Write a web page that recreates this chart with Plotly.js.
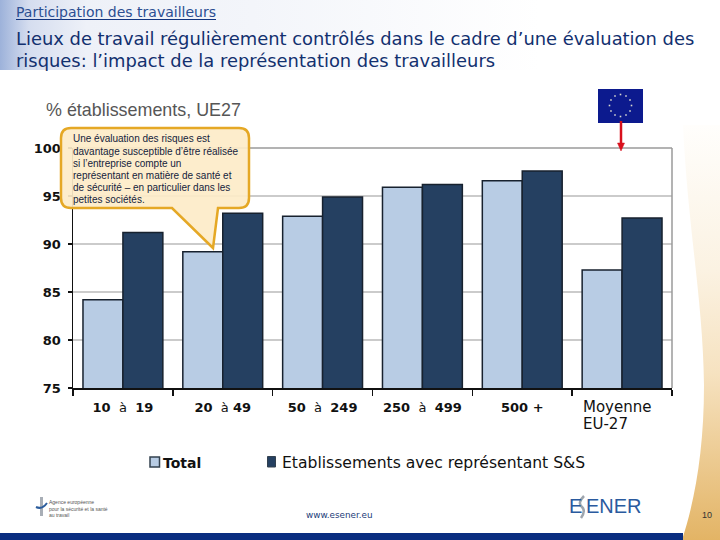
<!DOCTYPE html>
<html>
<head>
<meta charset="utf-8">
<script src="https://cdn.plot.ly/plotly-3.0.1.min.js"></script>
<style>
  html, body { margin: 0; padding: 0; background: white; }
</style>
</head>
<body>
<div id="chart" style="width:720px;height:540px"></div>
<script>
const categories = ["10 à 19", "20 à 49", "50 à 249", "250 à 499", "500 +", "Moyenne EU-27"];
const tick_labels = ["<b>10</b>  à  <b>19</b>", "<b>20</b>  à <b>49</b>", "<b>50</b>  à  <b>249</b>", "<b>250</b>  à  <b>499</b>", "<b>500 +</b>", ""];
const total_values = [84.2, 89.2, 92.9, 95.9, 96.6, 87.3];
const representative_values = [91.2, 93.2, 94.9, 96.2, 97.6, 92.7];

const callout_lines = [
  "Une évaluation des risques est",
  "davantage susceptible d’être réalisée",
  "si l’entreprise compte un",
  "représentant en matière de santé et",
  "de sécurité – en particulier dans les",
  "petites sociétés.",
];

// plot area in page pixels
const left = 73, right = 672, top_y = 148, bottom_y = 388;
const px = x => (x - left) / (right - left);
const py = y => (bottom_y - y) / (bottom_y - top_y);

const light_blue = "#B8CCE4";
const dark_blue = "#254061";
const bar_edge = "#17212e";

// slide background: header tint, orange side curve, bottom band
const background_svg = `<svg xmlns="http://www.w3.org/2000/svg" width="720" height="540">
<defs>
<linearGradient id="h" x1="0" x2="1" y1="0" y2="0">
<stop offset="0" stop-color="#9db2da"/><stop offset="0.04" stop-color="#d5ddef"/>
<stop offset="0.12" stop-color="#eef1f8"/><stop offset="0.35" stop-color="#f3f5fa"/>
<stop offset="0.75" stop-color="#ffffff"/></linearGradient>
<linearGradient id="o" x1="0" x2="0" y1="0" y2="1">
<stop offset="0" stop-color="#fffefc"/><stop offset="0.35" stop-color="#fbf2e2"/>
<stop offset="0.6" stop-color="#f6e2c0"/><stop offset="1" stop-color="#e3b465"/></linearGradient>
</defs>
<rect width="720" height="540" fill="#ffffff"/>
<rect width="720" height="70" fill="url(#h)"/>
<path d="M683 125 C 688 230, 703 300, 704 385 C 704 450, 695 500, 682 540 L720 540 L720 125 Z" fill="url(#o)"/>
<rect y="533" width="683" height="7" fill="#0a2d80"/>
</svg>`;

// annotations carry about 2px of padding, hence the x - 2
const label = (x, y, text, size, color, family) => ({
  xref: "paper", yref: "paper", x: px(x - 2), y: py(y), text: text, showarrow: false,
  xanchor: "left", yanchor: "middle", align: "left",
  font: { size: size, color: color, family: family },
});

const box = (x0, y0, x1, y1, fill, line_color, line_width) => ({
  type: "rect", xref: "paper", yref: "paper",
  x0: px(x0), x1: px(x1), y0: py(y0), y1: py(y1),
  fillcolor: fill, line: { color: line_color || fill, width: line_width || 0 },
});

const paper_path = (points, fill, line_color, line_width) => ({
  type: "path", xref: "paper", yref: "paper",
  path: points, fillcolor: fill, line: { color: line_color, width: line_width },
});

// path strings are in paper units, so convert from page pixels
const P = (x, y) => `${px(x).toFixed(5)},${py(y).toFixed(5)}`;

const callout_path = "M" + P(71, 128) + " L" + P(239, 128) +
  " Q" + P(249, 128) + " " + P(249, 138) + " L" + P(249, 198) +
  " Q" + P(249, 208) + " " + P(239, 208) + " L" + P(218, 208) +
  " L" + P(213, 248) + " L" + P(172, 208) + " L" + P(71, 208) +
  " Q" + P(61, 208) + " " + P(61, 198) + " L" + P(61, 138) +
  " Q" + P(61, 128) + " " + P(71, 128) + " Z";

const flag_stars = [];
for (let i = 0; i < 12; i++) {
  const a = i * Math.PI / 6;
  const cx = 620.5 + 11 * Math.sin(a), cy = 105.5 - 11 * Math.cos(a);
  flag_stars.push(box(cx - 0.8, cy - 0.8, cx + 0.8, cy + 0.8, "#d9d9cf"));
}

const data = [
  {
    name: "Total", x: categories, y: total_values, type: "bar",
    marker: { color: light_blue, line: { color: bar_edge, width: 1.5 } },
  },
  {
    name: "Etablissements avec représentant S&S", x: categories, y: representative_values, type: "bar",
    marker: { color: dark_blue, line: { color: bar_edge, width: 1.5 } },
  },
];

const layout = {
  width: 720,
  height: 540,
  margin: { l: left, r: 720 - right, t: top_y, b: 540 - bottom_y, pad: 0 },
  paper_bgcolor: "rgba(0,0,0,0)",
  plot_bgcolor: "rgba(0,0,0,0)",
  showlegend: false,
  barmode: "group",
  bargap: 0.2,
  bargroupgap: 0,
  font: { family: "DejaVu Sans" },
  xaxis: {
    type: "category",
    tickmode: "array",
    tickvals: categories,
    ticktext: tick_labels,
    tickson: "boundaries",
    ticks: "outside",
    ticklen: 6,
    tickwidth: 1.5,
    tickcolor: "#111",
    ticklabelstandoff: 7,
    showline: true,
    linecolor: "#111",
    linewidth: 1.5,
    showgrid: false,
    tickangle: 0,
    tickfont: { size: 13, color: "#111", family: "DejaVu Sans" },
  },
  yaxis: {
    range: [75, 100],
    tickvals: [75, 80, 85, 90, 95, 100],
    ticks: "outside",
    ticklen: 4,
    tickwidth: 1.5,
    tickcolor: "#111",
    ticklabelstandoff: 4,
    showline: true,
    linecolor: "#111",
    linewidth: 1.5,
    gridcolor: "#cbcbcb",
    gridwidth: 1.5,
    zeroline: false,
    tickfont: { size: 13, color: "#111", family: "DejaVu Sans", weight: 700 },
  },
  images: [{
    source: "data:image/svg+xml," + encodeURIComponent(background_svg),
    xref: "paper", yref: "paper",
    x: px(0), y: py(0), sizex: 720 / (right - left), sizey: 540 / (bottom_y - top_y),
    xanchor: "left", yanchor: "top", sizing: "stretch", layer: "below",
  }],
  shapes: [
    // plot frame, right side and top
    { type: "line", xref: "paper", yref: "paper", x0: 1, x1: 1, y0: 0, y1: 1, line: { color: "#9a9a9a", width: 1.5 } },
    { type: "line", xref: "paper", yref: "paper", x0: 0, x1: 1, y0: 1, y1: 1, line: { color: "#9a9a9a", width: 1.5 } },
    // header underline
    { type: "line", xref: "paper", yref: "paper", x0: px(16), x1: px(216), y0: py(19.5), y1: py(19.5), line: { color: "#12357f", width: 1 } },
    // callout
    paper_path(callout_path, "rgba(253,235,200,0.92)", "#E5A825", 2.5),
    // flag and arrow
    box(598, 89, 643, 123, "#0c1a8e"),
    ...flag_stars,
    { type: "line", xref: "paper", yref: "paper", x0: px(621), x1: px(621), y0: py(121), y1: py(144), line: { color: "#d8101c", width: 2.5 } },
    paper_path("M" + P(617.5, 143) + " L" + P(624.5, 143) + " L" + P(621, 151) + " Z", "#d8101c", "#d8101c", 0.5),
    // legend swatches
    box(150, 457, 159.5, 467, light_blue, "#33414f", 1.5),
    box(267.5, 456.5, 275.5, 467, dark_blue, "#33414f", 1),
    // agency logo figure
    box(40, 497, 43, 516, "#a8aeb6"),
    paper_path("M" + P(36, 507) + " Q" + P(42, 510) + " " + P(47, 503), "rgba(0,0,0,0)", "#2b5c9c", 2),
    // ESENER logo swerve
    paper_path("M" + P(584, 496) + " Q" + P(577, 503) + " " + P(582, 507) + " Q" + P(586, 511) + " " + P(581, 518), "rgba(0,0,0,0)", "#9ea5ad", 2.5),
  ],
  annotations: [
    label(16, 12, "Participation des travailleurs", 14, "#2c4f92", "DejaVu Sans"),
    label(16, 38, "Lieux de travail régulièrement contrôlés dans le cadre d’une évaluation des", 17.9, "#12306f", "DejaVu Sans"),
    label(16, 60, "risques: l’impact de la représentation des travailleurs", 17.9, "#12306f", "DejaVu Sans"),
    label(46, 110, "% établissements, UE27", 17.9, "#565656", "Liberation Sans"),
    ...callout_lines.map((line, i) => label(73, 139 + i * 12, line, 10, "#14233c", "Liberation Sans")),
    label(583, 407, "Moyenne", 15, "#111", "DejaVu Sans"),
    label(583, 424, "EU-27", 15, "#111", "DejaVu Sans"),
    label(163, 463, "<b>Total</b>", 14, "#111", "DejaVu Sans"),
    label(282, 463, "Etablissements avec représentant S&S", 15.6, "#111", "DejaVu Sans"),
    label(49, 508, "Agence européenne<br>pour la sécurité et la santé<br>au travail", 5, "#555", "Liberation Sans"),
    label(306, 515, "www.esener.eu", 8.8, "#1c3c78", "DejaVu Sans"),
    label(569, 506, "E", 20, "#2a5a9e", "Liberation Sans"),
    label(586, 506, "ENER", 20, "#2a5a9e", "Liberation Sans"),
    label(702, 515, "10", 9, "#333", "Liberation Sans"),
  ],
};

Plotly.newPlot("chart", data, layout, { displayModeBar: false, staticPlot: true });
</script>
</body>
</html>
